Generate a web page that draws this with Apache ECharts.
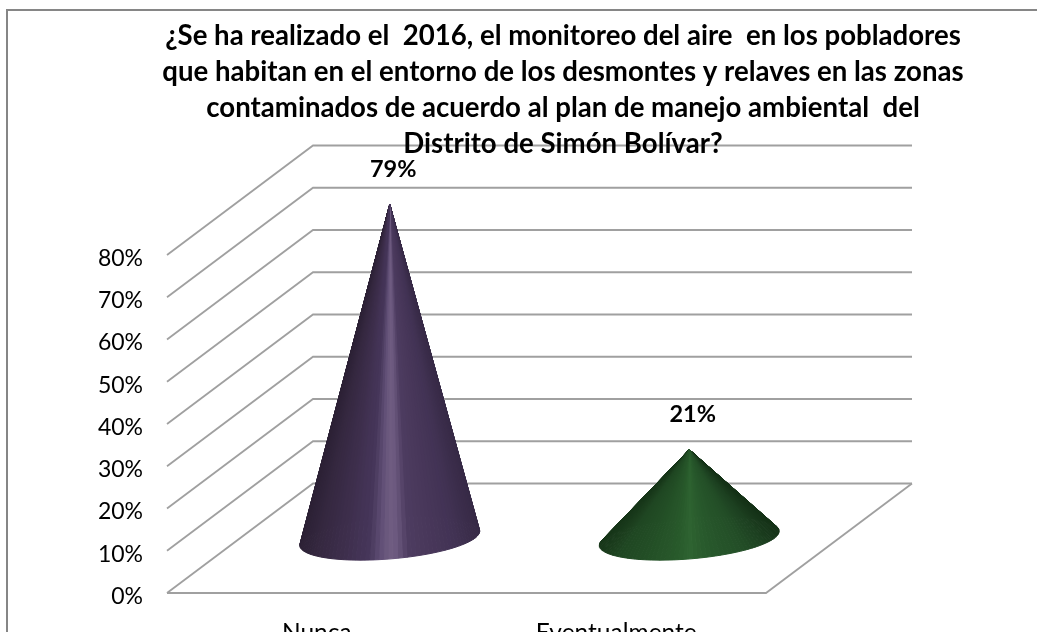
<!DOCTYPE html>
<html>
<head>
<meta charset="utf-8">
<style>html,body{margin:0;padding:0;background:#fff;overflow:hidden}#c{width:1037px;height:632px}</style>
<script src="https://cdn.jsdelivr.net/npm/echarts@6/dist/echarts.min.js"></script>
</head>
<body>
<div id="c"></div>
<script>
const titleLines = [
  "¿Se ha realizado el  2016, el monitoreo del aire  en los pobladores",
  "que habitan en el entorno de los desmontes y relaves en las zonas",
  "contaminados de acuerdo al plan de manejo ambiental  del",
  "Distrito de Simón Bolívar?"
];
const categories = ["Nunca", "Eventualmente"];
const values = [79, 21];
const gridTicks = [0, 10, 20, 30, 40, 50, 60, 70, 80];

const FONT = "Lato, Carlito, Calibri, sans-serif";
const DEPTH = [146, -109.5];
const LINE = "#a0a0a0";
const CONE_RATIO = 0.284, CONE_DEPTH = 0.2, SLICES = 120;
const palettes = [
  [[0,"#2c2135"],[0.1,"#352840"],[0.25,"#3e2f4d"],[0.38,"#46365a"],[0.46,"#65537a"],[0.5,"#6f5d81"],[0.54,"#6b587e"],[0.6,"#4d3c60"],[0.85,"#433355"],[1,"#372a46"]],
  [[0,"#173619"],[0.1,"#1f4622"],[0.3,"#245127"],[0.42,"#28592b"],[0.5,"#2e6331"],[0.6,"#28592c"],[0.8,"#234e27"],[0.92,"#1c4020"],[1,"#153217"]]
];
function hex(c){return [1,3,5].map(i=>parseInt(c.substr(i,2),16));}
function colorAt(p,u){
  for(let i=1;i<p.length;i++){
    if(u<=p[i][0]){
      const t=(u-p[i-1][0])/(p[i][0]-p[i-1][0]);
      const a=hex(p[i-1][1]),b=hex(p[i][1]);
      return "rgb("+a.map((x,k)=>Math.round(x+(b[k]-x)*t)).join(",")+")";
    }
  }
  return p[p.length-1][1];
}

function renderWall(params, api){
  const cs = params.coordSys;
  const v = api.value(0);
  const y = api.coord([0, v])[1];
  const x0 = cs.x;
  const style = {stroke: LINE, lineWidth: 1.8, fill: null};
  const children = [{
    type:"polyline",
    shape:{points:[[x0,y],[x0+DEPTH[0],y+DEPTH[1]],[x0+DEPTH[0]+cs.width,y+DEPTH[1]]]},
    style
  }];
  if(v===0){
    children.push({
      type:"polyline",
      shape:{points:[[x0,y],[x0+cs.width,y],[x0+cs.width+DEPTH[0],y+DEPTH[1]]]},
      style
    });
  }
  return {type:"group",children};
}

function renderCone(params, api){
  const i = api.value(0), v = api.value(1);
  const front = api.coord([i, 0]);
  const top = api.coord([i, v]);
  const band = api.size([1, 0])[0];
  const cx = front[0]+DEPTH[0]/2, cy = front[1]+DEPTH[1]/2;
  const apex = [top[0]+DEPTH[0]/2, top[1]+DEPTH[1]/2];
  const a = band*CONE_RATIO;
  const dx = DEPTH[0]*CONE_DEPTH, dy = DEPTH[1]*CONE_DEPTH;
  const pts = [];
  for(let k=0;k<=SLICES;k++){
    const t = k/SLICES*Math.PI*2;
    pts.push([cx+Math.cos(t)*a+Math.sin(t)*dx, cy+Math.sin(t)*dy]);
  }
  const xs = pts.map(p=>p[0]);
  const minX = Math.min(...xs), maxX = Math.max(...xs);
  const slices = [];
  for(let k=0;k<SLICES;k++){
    const p=pts[k], q=pts[k+1];
    slices.push({p,q,my:(p[1]+q[1])/2,u:((p[0]+q[0])/2-minX)/(maxX-minX)});
  }
  slices.sort((s,r)=>s.my-r.my);
  const pal = palettes[i];
  const children = slices.map(s=>{
    const c = colorAt(pal,s.u);
    return {type:"polygon",shape:{points:[apex,s.p,s.q]},style:{fill:c,stroke:c,lineWidth:1,lineJoin:"round"}};
  });
  children.push({
    type:"text",
    style:{
      text:v+"%",
      x:apex[0]+3.5, y:apex[1]-35,
      align:"center", verticalAlign:"middle",
      font:"bold 23.5px "+FONT, fill:"#000"
    },
    z2:10
  });
  return {type:"group",children};
}

const chart = echarts.init(document.getElementById("c"), null, {renderer:"canvas"});
chart.setOption({
  animation:false,
  backgroundColor:"#fff",
  title:{
    text:titleLines.join("\n"),
    left:558, top:13, textAlign:"center", z:20,
    textStyle:{fontFamily:FONT,fontWeight:"bold",fontSize:27.6,lineHeight:36,color:"#000"}
  },
  graphic:[{
    type:"polyline", z:0,
    shape:{points:[[7,640],[7,10],[1045,10]]},
    style:{stroke:"#868686",lineWidth:2,fill:null}
  }],
  grid:{left:167,top:255,width:599,height:338,containLabel:false,outerBoundsMode:"none"},
  xAxis:{
    type:"category", data:categories, boundaryGap:true, offset:4,
    axisLine:{show:false}, axisTick:{show:false}, splitLine:{show:false},
    axisLabel:{fontFamily:FONT,fontSize:24.5,color:"#000",margin:24}
  },
  yAxis:{
    type:"value", min:0, max:80, interval:10,
    axisLine:{show:false}, axisTick:{show:false}, splitLine:{show:false},
    axisLabel:{fontFamily:FONT,fontSize:23,color:"#000",margin:24,verticalAlign:"top",lineHeight:7,formatter:"{value}%"}
  },
  series:[
    {type:"custom",name:"grid",coordinateSystem:"cartesian2d",clip:false,silent:true,z:1,
     data:gridTicks.map(v=>[v]),encode:{y:0},renderItem:renderWall},
    {type:"custom",name:"cones",coordinateSystem:"cartesian2d",clip:false,silent:true,z:2,
     data:values.map((v,i)=>[i,v]),encode:{x:0,y:1},renderItem:renderCone}
  ]
});
</script>
</body>
</html>
